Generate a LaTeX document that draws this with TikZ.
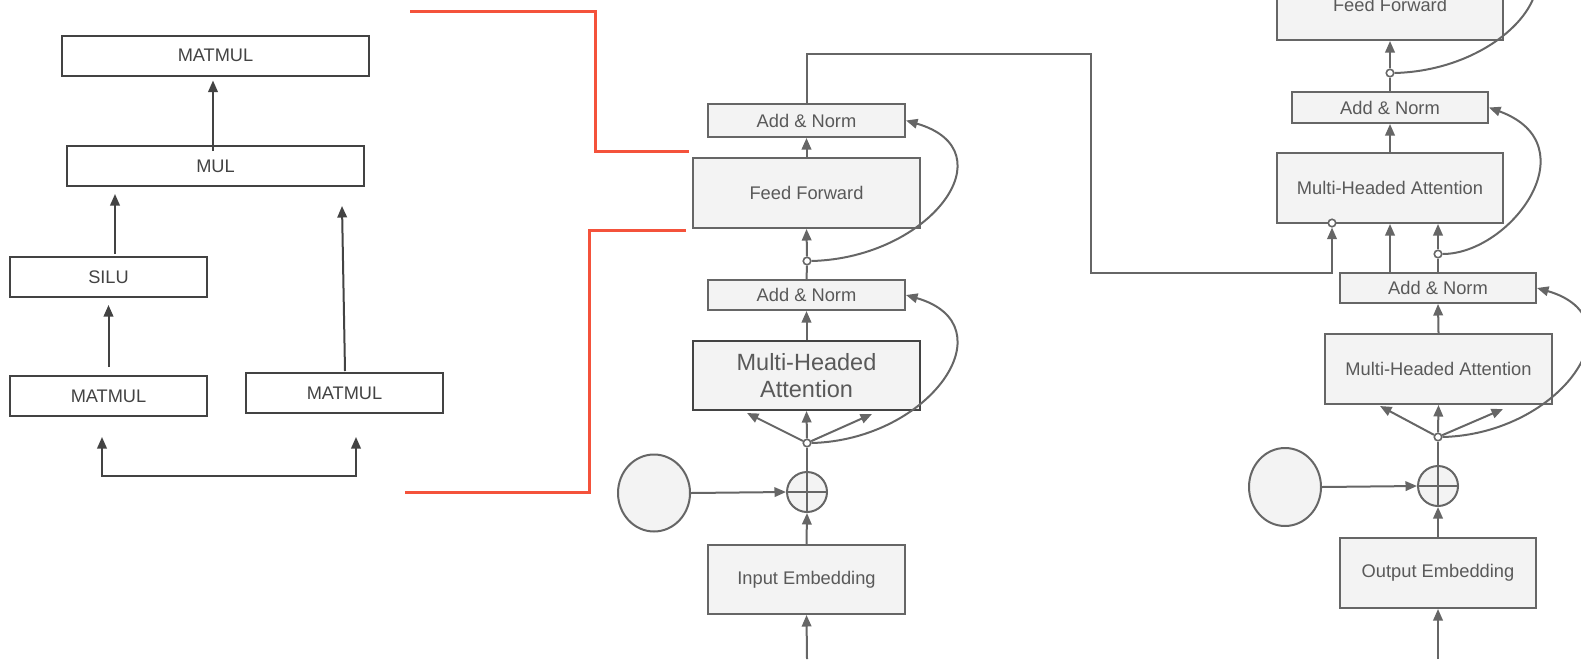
\documentclass[tikz,border=0pt]{standalone}
\usepackage{fontspec}
\setmainfont{Liberation Sans}
\usetikzlibrary{arrows.meta,calc,shapes.geometric}

\definecolor{lineg}{HTML}{666666}
\definecolor{darkg}{HTML}{434343}
\definecolor{fillg}{HTML}{F3F3F3}
\definecolor{textg}{HTML}{595959}
\definecolor{redl}{HTML}{F4523B}

\tikzset{
  blk/.style={draw=lineg, fill=fillg, line width=2pt, inner sep=0pt, text=textg,
    font=\fontsize{18.3}{22}\selectfont},
  opbox/.style={draw=darkg, fill=white, line width=2pt, inner sep=0pt, text=darkg,
    minimum height=40pt, font=\fontsize{18.2}{22}\selectfont},
  dot/.style={circle, draw=lineg, fill=white, line width=1.6pt, minimum size=7.5pt, inner sep=0pt},
  plusc/.style={circle, draw=lineg, fill=fillg, line width=2pt, minimum size=40pt, inner sep=0pt},
  posc/.style={ellipse, draw=lineg, fill=fillg, line width=2pt, minimum width=72pt,
    minimum height=77pt, inner sep=0pt},
  conn/.style={draw=lineg, line width=2pt},
  arr/.style={conn, -{Triangle[length=11.5pt,width=9.5pt]}},
  larr/.style={draw=darkg, line width=2pt, -{Triangle[length=11.5pt,width=9.5pt]}},
  redline/.style={draw=redl, line width=3pt},
}

\begin{document}
\begin{tikzpicture}[x=1pt,y=-1pt]
\useasboundingbox (0,0) rectangle (1581,659);
\clip (0,0) rectangle (1581,659);

% ---------- gated MLP detail ----------
\node[opbox, minimum width=307pt] (mm3)  at (215.5,55.5) {MATMUL};
\node[opbox, minimum width=297pt] (mul)  at (215.5,166)  {MUL};
\node[opbox, minimum width=197pt] (silu) at (108.5,277)  {SILU};
\node[opbox, minimum width=197pt] (mm1)  at (108.5,396)  {MATMUL};
\node[opbox, minimum width=197pt] (mm2)  at (344.5,393)  {MATMUL};

\draw[larr] ($(mm1.north)+(0,-8)$) -- ($(silu.south)+(0,7)$);
\draw[larr] ($(silu.north)+(6.5,-2)$) -- ($(mul.south)+(-100.5,7)$);
\draw[larr] ($(mul.north)+(-2.5,6)$) -- ($(mm3.south)+(-2.5,4)$);
\draw[larr] ($(mm2.north)+(0.5,-1)$) -- ($(mul.south)+(126.5,19)$);
\draw[draw=darkg, line width=2pt, {Triangle[length=11.5pt,width=9.5pt]}-{Triangle[length=11.5pt,width=9.5pt]}]
  ($(mm1.south)+(-6.5,20)$) |- ($(mm2.south)+(11.5,62)$) -- ($(mm2.south)+(11.5,23)$);

% ---------- encoder ----------
\node[blk, minimum width=197pt, minimum height=33pt] (ean2) at (806.5,120.5) {Add \& Norm};
\node[blk, minimum width=227pt, minimum height=70pt] (eff)  at (806.5,193)   {Feed Forward};
\node[dot] (edot2) at (807,261) {};
\node[blk, minimum width=197pt, minimum height=30pt] (ean1) at (806.5,295)   {Add \& Norm};
\node[blk, draw=darkg, minimum width=227pt, minimum height=69pt, align=center,
      font=\fontsize{23.5}{27}\selectfont] (emha) at (806.5,375.5) {Multi-Headed\\Attention};
\node[dot] (edot1) at (807,443) {};
\node[plusc] (eplus) at (807,492) {};
\node[posc] (epos) at (654,493) {};
\node[blk, minimum width=197pt, minimum height=69pt] (eemb) at (806.5,579.5) {Input Embedding};
\coordinate (ein) at (807,659);

% red brackets pointing at the feed-forward block
\coordinate (redtop) at (689,151);
\coordinate (redbot) at (686,230);
\draw[redline] (410,11) -| (595,151) -- (redtop);
\draw[redline] (405,492) -| (589,230) -- (redbot);

\draw[arr] (ein) -- (eemb.south);
\draw[arr] (eemb.north) -- (eplus.south);
\draw[conn] (eplus.north) -- (eplus.south);
\draw[conn] (eplus.west) -- (eplus.east);
\draw[conn] (eplus.north) -- (edot1.south);
\draw[arr] (epos.east) -- (eplus.west);
\draw[arr] (edot1.north) -- (emha.south);
\draw[arr] (edot1) -- ($(emha.south)+(-59.5,2)$);
\draw[arr] (edot1) -- ($(emha.south)+(65.5,3)$);
\draw[arr] (edot1.east) .. controls +(119,-3) and +(104,30) .. (ean1.east);
\draw[arr] (emha.north) -- (ean1.south);
\draw[conn] (ean1.north) -- (edot2.south);
\draw[arr] (edot2.north) -- (eff.south);
\draw[arr] (edot2.east) .. controls +(119,-3) and +(104,30) .. (ean2.east);
\draw[arr] (eff.north) -- (ean2.south);

% ---------- decoder ----------
\node[blk, minimum width=226pt, minimum height=70pt] (dff)  at (1390,5)     {Feed Forward};
\node[dot] (ddot3) at (1390,73) {};
\node[blk, minimum width=196pt, minimum height=31pt] (dan2) at (1390,107.5) {Add \& Norm};
\node[blk, minimum width=226pt, minimum height=70pt] (dmha2) at (1390,188)  {Multi-Headed Attention};
\node[dot] (dcirc) at (1332,223) {};
\node[dot] (ddot2) at (1438,254) {};
\node[blk, minimum width=196pt, minimum height=30pt] (dan1) at (1438,288)   {Add \& Norm};
\node[blk, minimum width=227pt, minimum height=70pt] (dmha1) at (1438.5,369) {Multi-Headed Attention};
\node[dot] (ddot1) at (1438,437) {};
\node[plusc] (dplus) at (1438,486) {};
\node[posc, minimum height=78pt] (dpos) at (1285,487) {};
\node[blk, minimum width=196pt, minimum height=70pt] (demb) at (1438,573) {Output Embedding};
\coordinate (din) at (1438,659);
\coordinate (dtop) at (1489,-68);

\draw[arr] (din) -- (demb.south);
\draw[arr] (demb.north) -- (dplus.south);
\draw[conn] (dplus.north) -- (dplus.south);
\draw[conn] (dplus.west) -- (dplus.east);
\draw[conn] (dplus.north) -- (ddot1.south);
\draw[arr] (dpos.east) -- (dplus.west);
\draw[arr] (ddot1.north) -- (dmha1.south);
\draw[arr] (ddot1) -- ($(dmha1.south)+(-58.5,1)$);
\draw[arr] (ddot1) -- ($(dmha1.south)+(64.5,4)$);
\draw[arr] (ddot1.east) .. controls +(119,-3) and +(104,30) .. (dan1.east);
\draw[arr] (dmha1.north) -- (dan1.south);
\draw[conn] (ddot2 |- dan1.north) -- (ddot2.south);
\draw[arr] (ddot2.north) -- (ddot2 |- dmha2.south);
\draw[arr] (dmha2.south |- dan1.north) -- (dmha2.south);
\draw[arr] (ddot2.east) .. controls +(68.5,0) and +(102,37.5) .. (dan2.east);
\draw[arr] (dmha2.north) -- (dan2.south);
\draw[conn] (dan2.north) -- (ddot3.south);
\draw[arr] (ddot3.north) -- (dff.south);
\draw[conn] (ddot3.east) .. controls +(119,-3) and +(104,30) .. (dtop);

% encoder output routed into the decoder attention
\coordinate (r1) at (806.5,54);
\coordinate (r2) at (1091,54);
\coordinate (r3) at (1091,273);
\draw[arr] (ean2.north) -- (r1) -- (r2) -- (r3) -| (dcirc.south);
\end{tikzpicture}
\end{document}
